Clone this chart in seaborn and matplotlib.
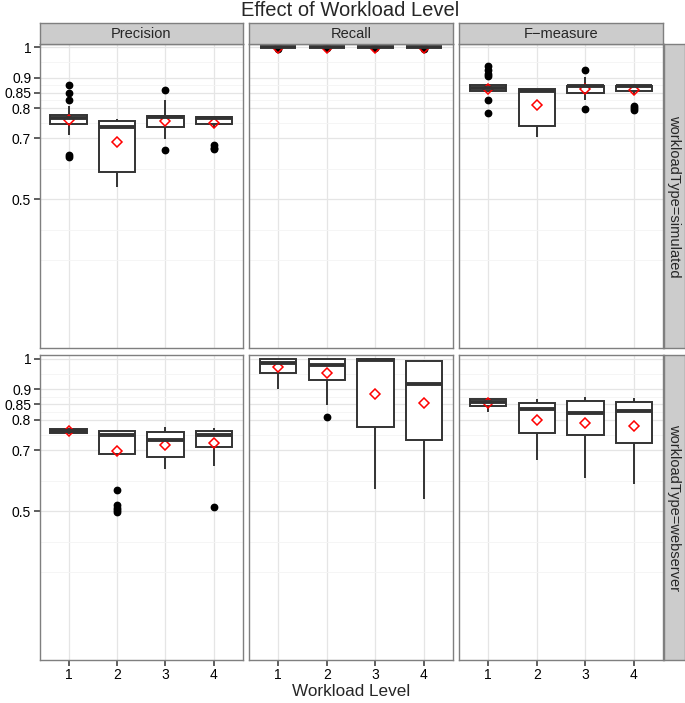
import numpy as np
import pandas as pd
import matplotlib
matplotlib.use("Agg")
import matplotlib.pyplot as plt
import seaborn as sns

sns.set_style("white")
plt.rcParams["font.family"] = ["Liberation Sans", "DejaVu Sans"]
plt.rcParams.update({
    "xtick.bottom": True, "ytick.left": True,
    "xtick.major.size": 4, "ytick.major.size": 4,
    "xtick.major.width": 1.1, "ytick.major.width": 1.1,
    "xtick.direction": "out", "ytick.direction": "out",
    "xtick.color": "#333333", "ytick.color": "#333333",
})

# ---------------- data ----------------
levels = ["1", "2", "3", "4"]
metrics = ["Precision", "Recall", "F\u2212measure"]
workload_types = ["workloadType=simulated", "workloadType=webserver"]

# five-number summaries per workload level: (whisker low, q1, median, q3, whisker high)
prec_sim_stats = [(0.710, 0.748, 0.767, 0.778, 0.808),
                  (0.542, 0.590, 0.739, 0.759, 0.764),
                  (0.698, 0.738, 0.770, 0.775, 0.827),
                  (0.733, 0.748, 0.768, 0.770, 0.772)]
prec_sim_outliers = [[0.877, 0.849, 0.827, 0.646, 0.640], [], [0.858, 0.662], [0.677, 0.670, 0.664]]
prec_sim_means = [0.761, 0.687, 0.759, 0.751]

rec_sim_stats = [(1.0, 1.0, 1.0, 1.0, 1.0)] * 4
rec_sim_outliers = [[0.995], [0.996], [0.996], [0.995]]
rec_sim_means = [0.998, 0.999, 0.999, 0.998]

f_sim_stats = [(0.852, 0.857, 0.867, 0.875, 0.880),
               (0.705, 0.742, 0.857, 0.862, 0.864),
               (0.825, 0.850, 0.872, 0.874, 0.902),
               (0.845, 0.855, 0.871, 0.873, 0.875)]
f_sim_outliers = [[0.939, 0.926, 0.913, 0.905, 0.828, 0.784], [], [0.924, 0.798], [0.808, 0.801, 0.794]]
f_sim_means = [0.863, 0.811, 0.863, 0.858]

prec_web_stats = [(0.757, 0.757, 0.762, 0.768, 0.768),
                  (0.688, 0.688, 0.749, 0.762, 0.766),
                  (0.637, 0.678, 0.732, 0.760, 0.776),
                  (0.648, 0.710, 0.748, 0.761, 0.772)]
prec_web_outliers = [[], [0.569, 0.520, 0.511, 0.504, 0.498], [], [0.514]]
prec_web_means = [0.762, 0.697, 0.718, 0.723]

rec_web_stats = [(0.899, 0.953, 0.986, 0.998, 1.0),
                 (0.846, 0.931, 0.979, 0.998, 1.0),
                 (0.572, 0.776, 0.996, 1.0, 1.0),
                 (0.539, 0.733, 0.915, 0.993, 0.995)]
rec_web_outliers = [[], [0.808], [], []]
rec_web_means = [0.972, 0.954, 0.884, 0.854]

f_web_stats = [(0.825, 0.844, 0.857, 0.867, 0.871),
               (0.668, 0.757, 0.834, 0.855, 0.866),
               (0.607, 0.748, 0.820, 0.861, 0.873),
               (0.588, 0.723, 0.829, 0.859, 0.871)]
f_web_outliers = [[], [], [], []]
f_web_means = [0.855, 0.799, 0.789, 0.778]

y_major = [0.5, 0.7, 0.8, 0.85, 0.9, 1.0]
y_major_labels = ["0.5", "0.7", "0.8", "0.85", "0.9", "1"]
y_minor = [0.3, 0.4, 0.6, 0.75, 0.825, 0.875, 0.95]

panels = [
    [(prec_sim_stats, prec_sim_outliers, prec_sim_means),
     (rec_sim_stats, rec_sim_outliers, rec_sim_means),
     (f_sim_stats, f_sim_outliers, f_sim_means)],
    [(prec_web_stats, prec_web_outliers, prec_web_means),
     (rec_web_stats, rec_web_outliers, rec_web_means),
     (f_web_stats, f_web_outliers, f_web_means)],
]


def group_values(stats, outliers):
    """Sample whose box-plot statistics equal the given summary."""
    lo, q1, med, q3, hi = stats
    low_out = sorted(o for o in outliers if o < q1)
    high_out = sorted(o for o in outliers if o >= q1)
    return low_out + [lo] + [q1] * 20 + [med] * 20 + [q3] * 20 + [hi] + high_out


def panel_frame(stats_list, outliers_list):
    rows = []
    for lev, st, outs in zip(levels, stats_list, outliers_list):
        for v in group_values(st, outs):
            rows.append({"level": lev, "value": v})
    return pd.DataFrame(rows)


# ---------------- layout ----------------
W, H = 685, 703
fig = plt.figure(figsize=(W / 100, H / 100), dpi=100)


def rect(x0, y0, x1, y1):
    return [x0 / W, 1 - y1 / H, (x1 - x0) / W, (y1 - y0) / H]


col_x = [(39.5, 243), (249, 453), (459, 663)]
row_y = [(43.7, 348), (355, 660)]
edge = "#333333"
border = "#7f7f7f"

for r in range(2):
    for c in range(3):
        x0, x1 = col_x[c]
        y0, y1 = row_y[r]
        ax = fig.add_axes(rect(x0, y0, x1, y1))
        stats_list, outliers_list, means = panels[r][c]
        df = panel_frame(stats_list, outliers_list)
        sns.boxplot(data=df, x="level", y="value", order=levels, ax=ax,
                    color="white", linecolor=edge, linewidth=1.4, width=0.75,
                    whis=1.5, showcaps=False, fliersize=4.6,
                    flierprops=dict(marker="o", markerfacecolor="black",
                                    markeredgecolor="black"),
                    medianprops=dict(linewidth=2.8, color=edge))
        mdf = pd.DataFrame({"level": levels, "mean": means})
        sns.pointplot(data=mdf, x="level", y="mean", order=levels, ax=ax,
                      errorbar=None, markers="D", linestyles="none",
                      color="red", markerfacecolor="none",
                      markersize=5.2, markeredgewidth=1.1)
        ax.set_xlim(-0.6, 3.6)
        ax.set_ylim(0.0115, 1.0115)
        ax.set_yticks(y_major)
        ax.set_yticklabels(y_major_labels)
        ax.set_yticks(y_minor, minor=True)
        ax.set_xticks(range(len(levels)))
        ax.set_xticklabels(levels)
        ax.grid(which="major", color="#e5e5e5", linewidth=0.9)
        ax.grid(which="minor", axis="y", color="#f4f4f4", linewidth=0.6)
        ax.set_axisbelow(True)
        ax.set_xlabel("")
        ax.set_ylabel("")
        for s in ax.spines.values():
            s.set_color(border)
            s.set_linewidth(1.0)
        ax.tick_params(which="minor", length=0, left=False, bottom=False)
        ax.tick_params(which="major", left=True, bottom=True, colors=edge,
                       labelcolor="black", labelsize=10, length=4, width=1.1,
                       direction="out", pad=2)
        if c != 0:
            ax.tick_params(axis="y", which="major", left=False, labelleft=False)
        if r != 1:
            ax.tick_params(axis="x", which="major", bottom=False, labelbottom=False)

# top strips
for c in range(3):
    x0, x1 = col_x[c]
    sax = fig.add_axes(rect(x0, 23, x1, 43.7))
    sax.set_facecolor("#cccccc")
    sax.set_xticks([]); sax.set_yticks([])
    for s in sax.spines.values():
        s.set_color(border); s.set_linewidth(1.0)
    sax.text(0.5, 0.47, metrics[c], ha="center", va="center", fontsize=10.5,
             transform=sax.transAxes)

# right strips
for r in range(2):
    y0, y1 = row_y[r]
    sax = fig.add_axes(rect(664, y0, 684.5, y1))
    sax.set_facecolor("#cccccc")
    sax.set_xticks([]); sax.set_yticks([])
    for s in sax.spines.values():
        s.set_color(border); s.set_linewidth(1.0)
    sax.text(0.5, 0.5, workload_types[r], ha="center", va="center",
             fontsize=10.5, rotation=-90, transform=sax.transAxes)

fig.text(350 / W, 1 - 10.5 / H, "Effect of Workload Level", ha="center",
         va="center", fontsize=14.5)
fig.text(351 / W, 1 - 691 / H, "Workload Level", ha="center", va="center",
         fontsize=12.3)

fig.savefig("out.png", dpi=100)
